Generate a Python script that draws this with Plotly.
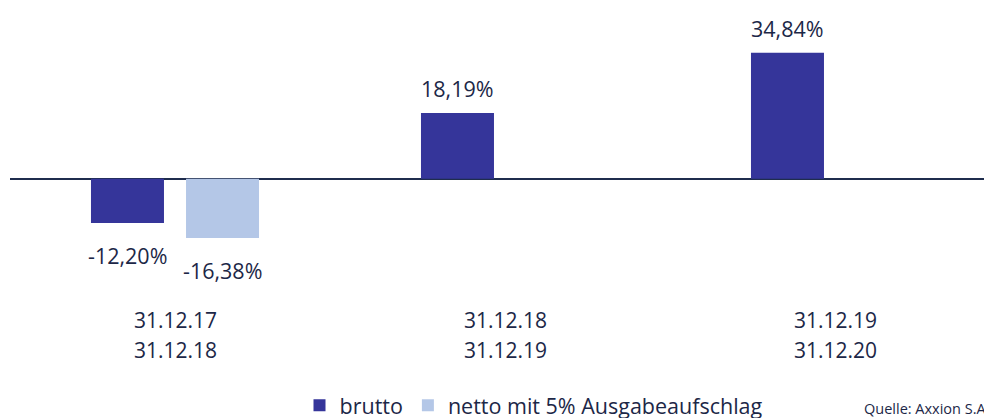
import plotly.graph_objects as go

categories = ["A", "B", "C"]
period_start = ["31.12.17", "31.12.18", "31.12.19"]
period_end = ["31.12.18", "31.12.19", "31.12.20"]
brutto = [-12.20, 18.19, 34.84]
netto = [-16.38, None, None]
series_names = ["brutto", "netto mit 5% Ausgabeaufschlag"]
source_text = "Quelle: Axxion S.A."

DARK = "#35359a"
LIGHT = "#b4c7e7"
TEXT = "#1c2747"
FONT = "Open Sans"

BARGAP = 0.424
slot = (1 - BARGAP) / 2

# page body has an 8px margin; figure coords = page coords - 8
PLOT_TOP, PLOT_BOTTOM = 2, 292      # page 10 .. 300
ZERO = 172                          # page 180
PX_PER_UNIT = 3.645
PLOT_H = PLOT_BOTTOM - PLOT_TOP
LEFT = 2
PLOT_W = 992 - LEFT


def fmt(v):
    return f"{v:.2f}".replace(".", ",") + "%"


def paper_y(fig_y):
    return (PLOT_BOTTOM - fig_y) / PLOT_H


fig = go.Figure()
fig.add_bar(x=list(range(len(categories))), y=brutto, name=series_names[0],
            marker=dict(color=DARK, line=dict(width=0)))
fig.add_bar(x=list(range(len(categories))), y=netto, name=series_names[1],
            marker=dict(color=LIGHT, line=dict(width=0)))

annotations = []
for series, off in ((brutto, -slot / 2), (netto, slot / 2)):
    for i, v in enumerate(series):
        if v is None:
            continue
        annotations.append(dict(
            x=i + off, y=v, xref="x", yref="y", text=fmt(v), showarrow=False,
            yanchor="bottom" if v >= 0 else "top",
            yshift=8 if v >= 0 else -16,
            font=dict(family=FONT, size=21.5, color=TEXT)))

for i in range(len(categories)):
    annotations.append(dict(x=i, y=paper_y(322 - 8), xref="x", yref="paper", text=period_start[i],
                            showarrow=False, yanchor="middle",
                            font=dict(family=FONT, size=21, color=TEXT)))
    annotations.append(dict(x=i, y=paper_y(352 - 8), xref="x", yref="paper", text=period_end[i],
                            showarrow=False, yanchor="middle",
                            font=dict(family=FONT, size=21, color=TEXT)))

annotations.append(dict(x=(862 - 8 - LEFT) / PLOT_W, y=paper_y(411 - 8), xref="paper", yref="paper",
                        text=source_text, showarrow=False, xanchor="left", yanchor="middle",
                        font=dict(family=FONT, size=14.5, color=TEXT)))

fig.update_layout(
    width=992, height=418,
    margin=dict(l=LEFT, r=0, t=PLOT_TOP, b=418 - PLOT_BOTTOM),
    paper_bgcolor="white", plot_bgcolor="white",
    barmode="group", bargap=BARGAP, bargroupgap=0.232,
    showlegend=True,
    legend=dict(orientation="h", x=(534 - 8 - LEFT) / PLOT_W, xanchor="center",
                y=paper_y(408 - 8), yanchor="middle",
                font=dict(family=FONT, size=21.5, color=TEXT),
                itemwidth=30, traceorder="normal"),
    xaxis=dict(range=[-0.5, -0.5 + PLOT_W / 330], showticklabels=False, showgrid=False,
               zeroline=False, showline=False, ticks=""),
    yaxis=dict(range=[-(PLOT_BOTTOM - ZERO) / PX_PER_UNIT, (ZERO - PLOT_TOP) / PX_PER_UNIT],
               showticklabels=False, showgrid=False, zeroline=True,
               zerolinecolor="#1f2d4d", zerolinewidth=2, showline=False, ticks=""),
    annotations=annotations,
)

fig.write_html("out.html")
